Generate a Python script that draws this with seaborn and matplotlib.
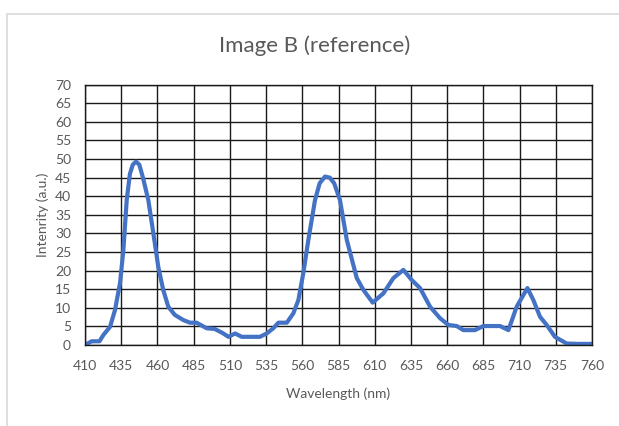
import matplotlib
matplotlib.use('Agg')
import matplotlib.pyplot as plt
import seaborn as sns
import pandas as pd
from matplotlib.patches import Rectangle

# spectrum
wavelength = [410, 414.6, 420, 422.7, 427.3, 430.7, 434.2, 436.5, 438.8, 441, 443, 445.2, 447.5,
              450, 453.7, 457.2, 460.6, 464, 467.5, 472, 477.9, 482.5, 487, 494, 499.7, 505.5,
              509, 513.6, 518.2, 530.8, 535.4, 540, 543.5, 549.3, 553.8, 557.3, 560.7, 564.2,
              568.8, 572, 575.7, 579, 582, 586, 590.7, 597.6, 602.2, 608.6, 616, 622.9, 629.8,
              635.5, 641.3, 648.2, 655.1, 660.8, 666.6, 671.2, 679.2, 685, 696.5, 702.3, 708,
              715.4, 719.5, 724.1, 728.7, 734.4, 742.5, 750, 760]
intensity = [0, 1, 1, 2.7, 4.9, 9.4, 16.7, 25.6, 39, 46, 48.5, 49.3, 48.5,
             45, 39, 30, 21, 14.8, 10.3, 8.1, 6.7, 6, 6, 4.5, 4.3, 3.1,
             2.2, 3.1, 2.2, 2.2, 3.1, 4.5, 6, 6, 8.5, 12.1, 19.3, 28.3,
             39, 43.5, 45.3, 45, 43.5, 39, 28.3, 18, 14.8, 11.4, 13.9, 18, 20.2,
             17.5, 15.3, 10.3, 7.2, 5.4, 5.1, 4, 4, 5.1, 5.1, 4, 10.3,
             15.3, 12.1, 7.6, 5.4, 2.2, 0.4, 0.3, 0.3]

x_ticks = list(range(410, 761, 25))
y_ticks = list(range(0, 71, 5))

df = pd.DataFrame({'wl': wavelength, 'val': intensity})

sns.set_theme(style='white')
plt.rcParams['font.family'] = ['Lato', 'DejaVu Sans']

fig = plt.figure(figsize=(6.19, 4.26), dpi=100)
ax = fig.add_axes([85 / 619, 1 - 345 / 426, 507 / 619, 260.3 / 426])

sns.lineplot(data=df, x='wl', y='val', ax=ax, color='#4472C4', linewidth=3.0)

ax.set_xlim(410, 760)
ax.set_ylim(0, 70)
ax.set_xticks(x_ticks)
ax.set_yticks(y_ticks)
ax.grid(True, color='#1a1a1a', linewidth=1.0)
ax.set_axisbelow(True)
for s in ax.spines.values():
    s.set_color('#1a1a1a')
    s.set_linewidth(1.0)
ax.tick_params(axis='x', length=0, labelsize=10, colors='#595959', pad=11)
ax.tick_params(axis='y', length=0, labelsize=10, colors='#595959', pad=10)
ax.set_xlabel('Wavelength (nm)', fontsize=10, color='#595959', labelpad=11)
ax.set_ylabel('Intenrity (a.u.)', fontsize=10, color='#595959', labelpad=4)

fig.text(315 / 619, 1 - 46 / 426, 'Image B (reference)', ha='center', va='center',
         fontsize=16, color='#595959')

# light chart-area frame
fig.patches.append(Rectangle((7 / 619, -0.1), 1.2, 1 - 14 / 426 + 0.1, transform=fig.transFigure,
                             fill=False, edgecolor='#d9d9d9', linewidth=1.2))

fig.savefig('out.png', dpi=100)
